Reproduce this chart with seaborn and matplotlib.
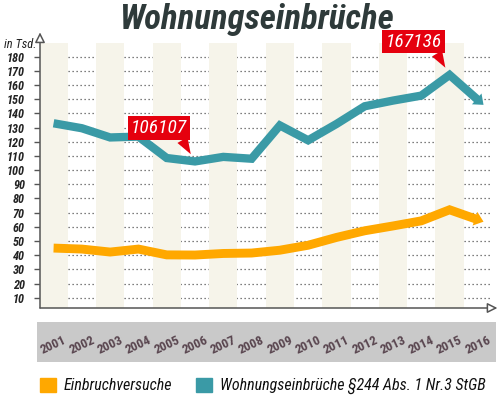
import matplotlib
matplotlib.use('Agg')
import matplotlib.pyplot as plt
import matplotlib.patches as mpatches
from matplotlib import font_manager
import seaborn as sns
import pandas as pd

# data (in thousand)
years = list(range(2001, 2017))
wohnungseinbrueche = [133, 129.5, 123, 123.6, 108.5, 106.1, 109.3, 108, 131.5, 121,
                      132.5, 145, 149, 152.5, 167.1, 149.5]
einbruchversuche = [45, 44.3, 42.2, 44.3, 40.2, 40.1, 41.2, 41.5, 43.5, 47,
                    52.5, 57.2, 60.6, 64.2, 72, 65]
yticks = list(range(10, 190, 10))
callouts = {2006: '106107', 2015: '167136'}

orange = '#FFA800'
teal = '#3A9AA6'
band = '#F6F4EA'
red = '#E5000E'
dark = '#2E3A3A'

df = pd.DataFrame({'Jahr': years, 'blau': wohnungseinbrueche, 'orange': einbruchversuche})

# pick a narrow font if one is installed
installed = {f.name for f in font_manager.fontManager.ttflist}
narrow = [n for n in ['Liberation Sans Narrow', 'Roboto Condensed', 'Open Sans Condensed',
                      'Noto Sans Condensed', 'DejaVu Sans Condensed'] if n in installed]
base_font = narrow[0] if narrow else 'Liberation Sans'

sns.set_theme(style='white')
plt.rcParams['font.family'] = [base_font, 'DejaVu Sans']

fig = plt.figure(figsize=(4.99, 3.98), dpi=100)
ax = fig.add_axes([40 / 499, 1 - 308 / 398, 452 / 499, 265 / 398])
ax.set_xlim(2000.52, 2016.5)
ax.set_ylim(2.75, 189.6)

# dotted grid, cream bands on top of it
for v in yticks:
    ax.axhline(v, color='#555555', lw=0.9, ls=(0, (1, 2.2)), zorder=0)
for y in years[::2]:
    ax.axvspan(y - 0.5, y + 0.5, color=band, lw=0, zorder=1)

sns.lineplot(data=df, x='Jahr', y='orange', color=orange, lw=6.4, ax=ax, zorder=3,
             solid_joinstyle='miter', solid_capstyle='butt')
sns.lineplot(data=df, x='Jahr', y='blau', color=teal, lw=6.0, ax=ax, zorder=4,
             solid_joinstyle='miter', solid_capstyle='butt')

# arrow heads at the line ends
for vals, col in [(einbruchversuche, orange), (wohnungseinbrueche, teal)]:
    ax.annotate('', xy=(years[-1] + 0.2, vals[-1] + (vals[-1] - vals[-2]) * 0.2),
                xytext=(years[-2], vals[-2]),
                arrowprops=dict(arrowstyle='-|>,head_length=0.5,head_width=0.4',
                                color=col, lw=0, mutation_scale=13, shrinkA=0, shrinkB=0),
                zorder=5)

# red callouts
for yr, txt in callouts.items():
    v = wohnungseinbrueche[years.index(yr)]
    ax.annotate(txt, xy=(yr, v), xytext=(-26, 24), textcoords='offset points',
                ha='center', va='center', color='white', fontsize=14, style='italic',
                bbox=dict(boxstyle='square,pad=0.15', fc=red, ec='none'),
                arrowprops=dict(arrowstyle='wedge,tail_width=0.6', fc=red, ec='none',
                                relpos=(0.87, 0.1), shrinkA=0, shrinkB=6),
                zorder=6)

# axes styling
for s in ax.spines.values():
    s.set_visible(False)
ax.annotate('', xy=(0, 1.04), xytext=(0, 0), xycoords='axes fraction',
            arrowprops=dict(arrowstyle='-|>,head_length=0.5,head_width=0.25', fc='white',
                            ec='#555555', lw=1.1, shrinkA=0, shrinkB=0))
ax.annotate('', xy=(1.012, 0), xytext=(0, 0), xycoords='axes fraction',
            arrowprops=dict(arrowstyle='-|>,head_length=0.5,head_width=0.25', fc='white',
                            ec='#555555', lw=1.1, shrinkA=0, shrinkB=0))

ax.set_yticks(yticks)
ax.set_yticklabels([str(t) for t in yticks], fontsize=8.8, style='italic',
                   fontweight='bold', color='#222222')
ax.tick_params(axis='y', left=True, length=4, width=1, color='#555555', pad=7)
ax.set_xticks(years)
ax.set_xticklabels([str(y) for y in years], rotation=25, fontsize=9.5, fontweight='bold',
                   color='#5A4650', ha='center', va='center')
ax.tick_params(axis='x', bottom=False, pad=21)
ax.set_xlabel('')
ax.set_ylabel('')

# grey band behind the year labels
fig.patches.append(mpatches.Rectangle((37 / 499, 1 - 362 / 398), 459 / 499, 40 / 398,
                                      transform=fig.transFigure, fc='#C9C9C9', ec='none',
                                      zorder=-1))

fig.text(36 / 499, 1 - 45 / 398, 'in Tsd.', ha='right', va='center', fontsize=9,
         style='italic', color='#222222')
fig.text(257 / 499, 1 - 19 / 398, 'Wohnungseinbrüche', ha='center', va='center',
         fontsize=25, fontweight='bold', style='italic', color=dark)

handles = [mpatches.Patch(color=orange, label='Einbruchversuche'),
           mpatches.Patch(color=teal, label='Wohnungseinbrüche §244 Abs. 1 Nr.3 StGB')]
fig.legend(handles=handles, loc='center left', bbox_to_anchor=(40 / 499, 1 - 386 / 398),
           ncol=2, frameon=False, borderpad=0, borderaxespad=0,
           handlelength=1.0, handleheight=1.0, handletextpad=0.5,
           columnspacing=1.45, prop=dict(size=11.5, style='italic'), labelcolor='#111111')

fig.savefig('out.png', dpi=100)
